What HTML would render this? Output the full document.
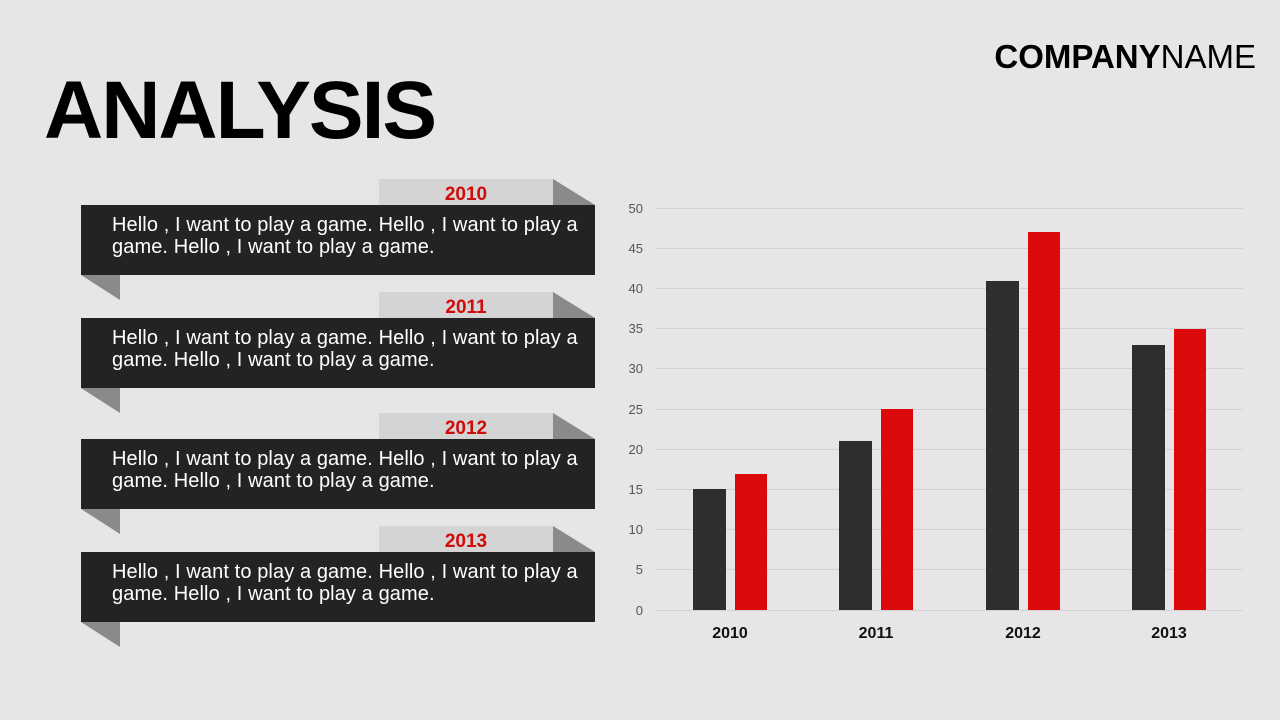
<!DOCTYPE html>
<html><head><style>
body{margin:0;width:1280px;height:720px;background:#e7e5e8;font-family:"Liberation Sans",sans-serif;overflow:hidden;position:relative}
.t{position:absolute;left:44px;top:64px;font-size:82px;font-weight:bold;letter-spacing:-2px;color:#000}
.c{position:absolute;right:24px;top:38px;font-size:33px;color:#000}
.box{position:absolute;left:81px;width:514px;height:70px;background:#232323;color:#fff;font-size:20px;line-height:22px;box-sizing:border-box;padding:9px 0 0 31px;letter-spacing:0.1px}
.tab{position:absolute;left:379px;width:174px;height:26px;background:#d4d4d4;color:#d10a0a;font-weight:bold;font-size:19px;text-align:center;line-height:32px}
svg{position:absolute;left:0;top:0}
</style></head><body>
<div class="t">ANALYSIS</div>
<div class="c"><b>COMPANY</b>NAME</div>
<svg width="1280" height="720">
<g fill="#8a8a8a">
<polygon points="553,179 595,205 553,205"/><polygon points="81,275 120,275 120,300"/>
<polygon points="553,292 595,318 553,318"/><polygon points="81,388 120,388 120,413"/>
<polygon points="553,413 595,439 553,439"/><polygon points="81,509 120,509 120,534"/>
<polygon points="553,526 595,552 553,552"/><polygon points="81,622 120,622 120,647"/>
</g>
<g stroke="#d3d1d4" stroke-width="1">
<line x1="655" x2="1243" y1="208.5" y2="208.5"/><line x1="655" x2="1243" y1="248.5" y2="248.5"/>
<line x1="655" x2="1243" y1="288.5" y2="288.5"/><line x1="655" x2="1243" y1="328.5" y2="328.5"/>
<line x1="655" x2="1243" y1="368.5" y2="368.5"/><line x1="655" x2="1243" y1="409.5" y2="409.5"/>
<line x1="655" x2="1243" y1="449.5" y2="449.5"/><line x1="655" x2="1243" y1="489.5" y2="489.5"/>
<line x1="655" x2="1243" y1="529.5" y2="529.5"/><line x1="655" x2="1243" y1="569.5" y2="569.5"/>
<line x1="655" x2="1243" y1="610.5" y2="610.5"/>
</g>
<g font-family="Liberation Sans" font-size="13" fill="#555" text-anchor="end">
<text x="643" y="213">50</text><text x="643" y="253">45</text><text x="643" y="293">40</text>
<text x="643" y="333">35</text><text x="643" y="373">30</text><text x="643" y="414">25</text>
<text x="643" y="454">20</text><text x="643" y="494">15</text><text x="643" y="534">10</text>
<text x="643" y="574">5</text><text x="643" y="615">0</text>
</g>
<g fill="#2e2e2e">
<rect x="693" y="489" width="33" height="121"/><rect x="839" y="441" width="33" height="169"/>
<rect x="986" y="281" width="33" height="329"/><rect x="1132" y="345" width="33" height="265"/>
</g>
<g fill="#dc0a0a">
<rect x="735" y="474" width="32" height="136"/><rect x="881" y="409" width="32" height="201"/>
<rect x="1028" y="232" width="32" height="378"/><rect x="1174" y="329" width="32" height="281"/>
</g>
<g font-family="Liberation Sans" font-size="16" font-weight="bold" fill="#111" text-anchor="middle">
<text x="730" y="638">2010</text><text x="876" y="638">2011</text><text x="1023" y="638">2012</text><text x="1169" y="638">2013</text>
</g>
</svg>
<div class="tab" style="top:179px">2010</div>
<div class="box" style="top:205px">Hello , I want to play a game. Hello , I want to play a game. Hello , I want to play a game.</div>
<div class="tab" style="top:292px">2011</div>
<div class="box" style="top:318px">Hello , I want to play a game. Hello , I want to play a game. Hello , I want to play a game.</div>
<div class="tab" style="top:413px">2012</div>
<div class="box" style="top:439px">Hello , I want to play a game. Hello , I want to play a game. Hello , I want to play a game.</div>
<div class="tab" style="top:526px">2013</div>
<div class="box" style="top:552px">Hello , I want to play a game. Hello , I want to play a game. Hello , I want to play a game.</div>
</body></html>
